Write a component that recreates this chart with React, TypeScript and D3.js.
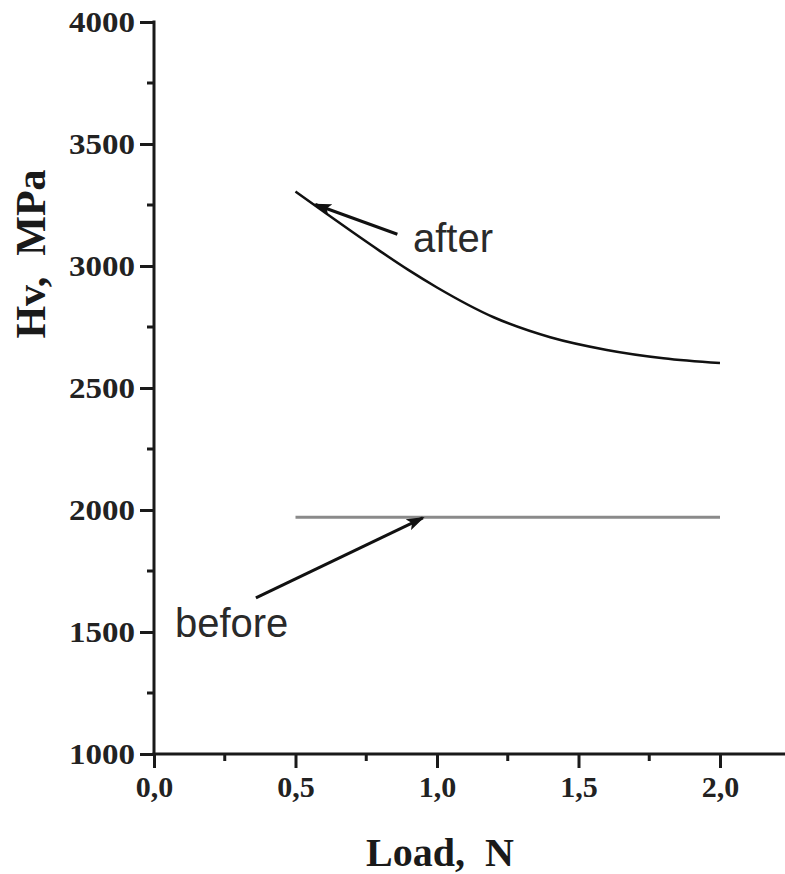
import React, { useEffect, useRef } from 'react';
import * as d3 from 'd3';

// data
const loadAfter = [0.5, 0.6, 0.7, 0.8, 0.9, 1.0, 1.2, 1.4, 1.6, 1.8, 2.0];
const hvAfter = [3305, 3222, 3140, 3060, 2983, 2912, 2790, 2708, 2656, 2622, 2602];
const loadBefore = [0.5, 2.0];
const hvBefore = [1970, 1970];

const xTicks = [0, 0.5, 1.0, 1.5, 2.0];
const xMinor = [0.25, 0.75, 1.25, 1.75];
const yTicks = [1000, 1500, 2000, 2500, 3000, 3500, 4000];
const yMinor = [1250, 1750, 2250, 2750, 3250, 3750];

// annotations: [tail, tip] in data units
const afterArrow = [[0.86, 3130], [0.57, 3252]];
const afterLabel = { text: 'after', x: 0.915, y: 3058 };
const beforeArrow = [[0.36, 1640], [0.95, 1968]];
const beforeLabel = { text: 'before', x: 0.074, y: 1480 };

const W = 785;
const H = 874;
const axisColor = '#1a1a1a';
const serif = '"Liberation Serif", "Times New Roman", serif';
const sans = '"Liberation Sans", Arial, sans-serif';

export default function App() {
  const ref = useRef<SVGSVGElement>(null);

  useEffect(() => {
    const svg = d3.select(ref.current);
    svg.selectAll('*').remove();

    const x = d3.scaleLinear().domain([0, 2]).range([154, 720]);
    const y = d3.scaleLinear().domain([1000, 4000]).range([754, 22]);

    // arrow head
    svg.append('defs').append('marker')
      .attr('id', 'arrow')
      .attr('markerWidth', 18)
      .attr('markerHeight', 12)
      .attr('refX', 16)
      .attr('refY', 6)
      .attr('orient', 'auto')
      .attr('markerUnits', 'userSpaceOnUse')
      .append('path')
      .attr('d', 'M0,0 L18,6 L0,12 L4,6 Z')
      .attr('fill', '#111');

    // before line
    const line = d3.line<number>()
      .x((d, i) => x(loadBefore[i]))
      .y(d => y(d));
    svg.append('path')
      .attr('d', line(hvBefore))
      .attr('fill', 'none')
      .attr('stroke', '#8a8a8a')
      .attr('stroke-width', 3);

    // after curve
    const curve = d3.line<number>()
      .x((d, i) => x(loadAfter[i]))
      .y(d => y(d))
      .curve(d3.curveMonotoneX);
    svg.append('path')
      .attr('d', curve(hvAfter))
      .attr('fill', 'none')
      .attr('stroke', '#111')
      .attr('stroke-width', 2.5);

    // axes
    const xAxis = d3.axisBottom(x).tickValues(xTicks).tickSize(14).tickPadding(8)
      .tickFormat(d => d3.format('.1f')(d as number).replace('.', ','));
    const gx = svg.append('g').attr('transform', `translate(0 ${y(1000)})`).call(xAxis);
    gx.select('.domain').remove();
    gx.selectAll('line').attr('stroke', axisColor).attr('stroke-width', 3);
    gx.selectAll('text')
      .attr('font-family', serif)
      .attr('font-weight', 'bold')
      .attr('font-size', 30)
      .attr('fill', '#222');
    gx.selectAll('.minor').data(xMinor).enter().append('line')
      .attr('x1', d => x(d)).attr('x2', d => x(d))
      .attr('y1', 0).attr('y2', 7)
      .attr('stroke', axisColor).attr('stroke-width', 3);

    const yAxis = d3.axisLeft(y).tickValues(yTicks).tickSize(14).tickPadding(5)
      .tickFormat(d3.format('d'));
    const gy = svg.append('g').attr('transform', `translate(${x(0)} 0)`).call(yAxis);
    gy.select('.domain').remove();
    gy.selectAll('line').attr('stroke', axisColor).attr('stroke-width', 3);
    gy.selectAll('text')
      .attr('font-family', serif)
      .attr('font-weight', 'bold')
      .attr('font-size', 30)
      .attr('textLength', 66)
      .attr('lengthAdjust', 'spacingAndGlyphs')
      .attr('fill', '#222');
    gy.selectAll('.minor').data(yMinor).enter().append('line')
      .attr('x1', 0).attr('x2', -7)
      .attr('y1', d => y(d)).attr('y2', d => y(d))
      .attr('stroke', axisColor).attr('stroke-width', 3);

    // axis lines
    svg.append('line')
      .attr('x1', x(0) - 1.5).attr('x2', W)
      .attr('y1', y(1000)).attr('y2', y(1000))
      .attr('stroke', axisColor).attr('stroke-width', 3);
    svg.append('line')
      .attr('x1', x(0)).attr('x2', x(0))
      .attr('y1', y(4000) - 1.5).attr('y2', y(1000))
      .attr('stroke', axisColor).attr('stroke-width', 3);

    // axis titles
    svg.append('text')
      .attr('x', 440).attr('y', 866)
      .attr('text-anchor', 'middle')
      .attr('font-family', serif)
      .attr('font-weight', 'bold')
      .attr('font-size', 40)
      .attr('fill', '#1a1a1a')
      .attr('xml:space', 'preserve')
      .text('Load,  N');
    svg.append('text')
      .attr('transform', 'translate(45 254) rotate(-90)')
      .attr('text-anchor', 'middle')
      .attr('font-family', serif)
      .attr('font-weight', 'bold')
      .attr('font-size', 42)
      .attr('fill', '#1a1a1a')
      .attr('xml:space', 'preserve')
      .text('Hv,  MPa');

    // annotations
    [afterArrow, beforeArrow].forEach(a => {
      svg.append('line')
        .attr('x1', x(a[0][0])).attr('y1', y(a[0][1]))
        .attr('x2', x(a[1][0])).attr('y2', y(a[1][1]))
        .attr('stroke', '#111')
        .attr('stroke-width', 3)
        .attr('marker-end', 'url(#arrow)');
    });
    [afterLabel, beforeLabel].forEach(l => {
      svg.append('text')
        .attr('x', x(l.x)).attr('y', y(l.y))
        .attr('font-family', sans)
        .attr('font-size', 40)
        .attr('fill', '#2a2a2a')
        .text(l.text);
    });
  }, []);

  return (
    <svg ref={ref} width={W} height={H}
      style={{ position: 'absolute', left: 0, top: 0, background: '#fff' }} />
  );
}
